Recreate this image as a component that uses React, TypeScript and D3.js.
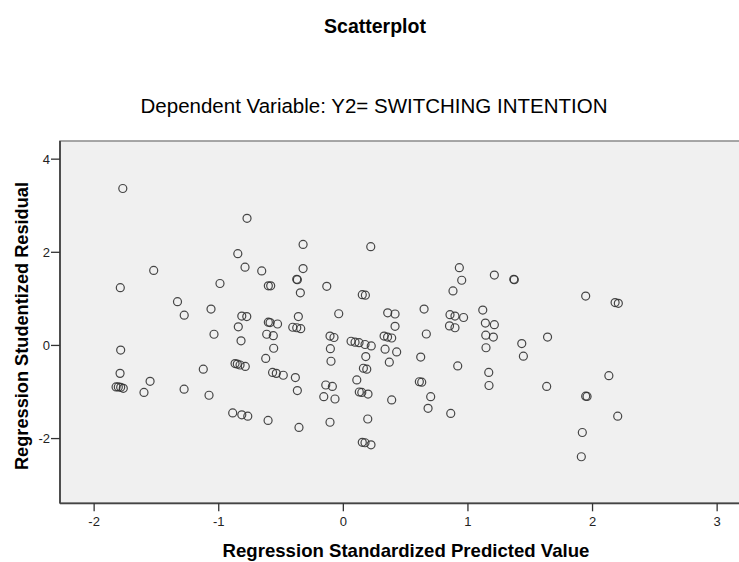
import React from "react";
import * as d3 from "d3";

const xTicks = [-2, -1, 0, 1, 2, 3];
const yTicks = [-2, 0, 2, 4];

const predicted = [
  -1.770, -1.522, -1.790, -1.331, -1.277, -1.062, -0.773, -0.323, 0.220, -0.847,
  -0.789, -0.655, -0.323, -0.990, -0.602, -0.583, -0.374, -0.369, -0.133, -0.345,
  0.152, 0.177, -0.815, -0.775, -0.602, -0.588, -0.528, -0.361, -0.037, -0.406,
  -0.374, -0.342, -0.843, -1.038, 0.931, 1.212, 1.368, 1.372, 0.950, 0.880,
  0.356, 0.415, 0.648, 0.856, 0.896, 0.965, 1.119, 1.140, 1.212, 0.415,
  0.852, 0.896, 1.945, 2.181, 2.207, -0.821, -0.615, -0.562, -0.559, -0.623,
  -0.107, -0.075, -0.104, -0.099, 0.062, 0.094, 0.126, 0.174, 0.224, 0.327,
  0.355, 0.388, 0.180, 0.335, 0.428, 0.369, 0.161, 0.188, -0.869, -0.851,
  -0.829, -0.787, -1.124, -1.792, -0.568, -0.538, -0.482, -0.385, 0.666, 1.143,
  1.204, 0.621, 1.145, 1.432, 1.639, 1.445, 0.918, 1.167, 2.131, -1.787,
  -1.824, -1.806, -1.787, -1.766, -1.551, -1.600, -1.278, -1.078, -0.369, -0.888,
  -0.815, -0.767, -0.604, -0.356, -0.141, -0.088, -0.157, -0.067, -0.107, 0.108,
  0.128, 0.148, 0.198, 0.196, 0.152, 0.174, 0.222, 0.610, 0.629, 1.169,
  1.632, 0.388, 0.701, 0.680, 0.862, 1.945, 1.956, 2.202, 1.918, 1.910,
];

const residual = [
  3.37, 1.61, 1.24, 0.94, 0.65, 0.78, 2.73, 2.17, 2.12, 1.97,
  1.68, 1.60, 1.65, 1.33, 1.28, 1.28, 1.42, 1.41, 1.27, 1.13,
  1.09, 1.08, 0.63, 0.62, 0.50, 0.49, 0.46, 0.62, 0.68, 0.39,
  0.38, 0.36, 0.40, 0.24, 1.67, 1.51, 1.42, 1.41, 1.40, 1.17,
  0.70, 0.675, 0.78, 0.66, 0.63, 0.60, 0.76, 0.48, 0.445, 0.41,
  0.42, 0.38, 1.06, 0.92, 0.905, 0.10, 0.24, 0.21, -0.06, -0.28,
  0.20, 0.17, -0.07, -0.34, 0.09, 0.07, 0.06, 0.02, -0.01, 0.20,
  0.18, 0.16, -0.24, -0.08, -0.14, -0.36, -0.49, -0.51, -0.39, -0.40,
  -0.42, -0.45, -0.51, -0.60, -0.58, -0.60, -0.64, -0.69, 0.245, 0.22,
  0.18, -0.25, -0.05, 0.04, 0.18, -0.23, -0.44, -0.58, -0.65, -0.10,
  -0.89, -0.89, -0.90, -0.92, -0.77, -1.01, -0.94, -1.07, -0.97, -1.45,
  -1.49, -1.52, -1.61, -1.76, -0.85, -0.88, -1.10, -1.15, -1.65, -0.74,
  -1.00, -1.01, -1.045, -1.58, -2.08, -2.09, -2.135, -0.78, -0.79, -0.86,
  -0.88, -1.17, -1.10, -1.35, -1.46, -1.09, -1.095, -1.52, -1.87, -2.39,
];

const W = 739;
const H = 562;
const left = 60;
const top = 141;
const bottom = 503.3;
const pxPerX = 124.6;

export default function App() {
  const x = d3.scaleLinear().domain([-2.274, 3.4]).range([left, left + 5.674 * pxPerX]);
  const y = d3.scaleLinear().domain([-3.39, 4.39]).range([bottom, top]);
  const font = "'Liberation Sans', Arial, sans-serif";
  const right = x(3.4);

  return (
    <div style={{ position: "absolute", left: 0, top: 0 }}>
      <svg width={W} height={H} style={{ display: "block", background: "#fff" }}>
        <text x={375} y={33} textAnchor="middle" fontFamily={font} fontWeight="bold" fontSize={19.5} fill="#000">
          Scatterplot
        </text>
        <text x={374} y={113} textAnchor="middle" fontFamily={font} fontSize={20.5} fill="#000">
          Dependent Variable: Y2= SWITCHING INTENTION
        </text>
        <rect x={left} y={top} width={right - left} height={bottom - top} fill="#f0f0f0" stroke="#8a8a8a" strokeWidth={1.5} />
        <line x1={left} x2={left} y1={top} y2={bottom} stroke="#444" strokeWidth={1.8} />
        <line x1={left} x2={right} y1={bottom} y2={bottom} stroke="#444" strokeWidth={1.8} />
        {yTicks.map((t) => (
          <g key={"y" + t}>
            <line x1={left - 9} x2={left} y1={y(t)} y2={y(t)} stroke="#333" strokeWidth={1.3} />
            <text x={left - 10} y={y(t) + 4.5} textAnchor="end" fontFamily={font} fontSize={13} fill="#222">
              {t}
            </text>
          </g>
        ))}
        {xTicks.map((t) => (
          <g key={"x" + t}>
            <line x1={x(t)} x2={x(t)} y1={bottom} y2={bottom + 8} stroke="#333" strokeWidth={1.3} />
            <text x={x(t)} y={526} textAnchor="middle" fontFamily={font} fontSize={13} fill="#222">
              {t}
            </text>
          </g>
        ))}
        <text x={406} y={557} textAnchor="middle" fontFamily={font} fontWeight="bold" fontSize={18.6} fill="#000">
          Regression Standardized Predicted Value
        </text>
        <text
          transform={`translate(28,326) rotate(-90)`}
          textAnchor="middle"
          fontFamily={font}
          fontWeight="bold"
          fontSize={18.2}
          fill="#000"
        >
          Regression Studentized Residual
        </text>
        {predicted.map((p, i) => (
          <circle key={i} cx={x(p)} cy={y(residual[i])} r={4} fill="none" stroke="#333" strokeWidth={1.2} strokeOpacity={0.9} />
        ))}
      </svg>
    </div>
  );
}
